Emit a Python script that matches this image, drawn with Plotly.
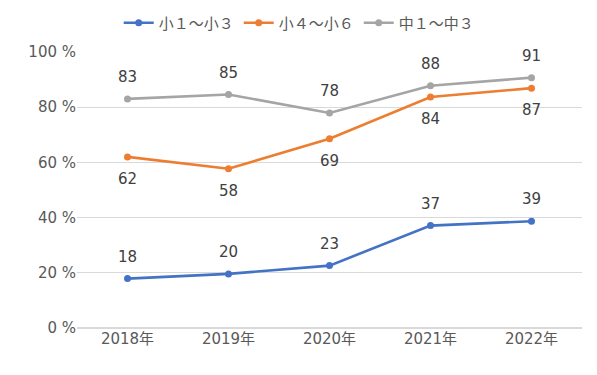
import plotly.graph_objects as go

years = ["2018年", "2019年", "2020年", "2021年", "2022年"]
names = ["小１～小３", "小４～小６", "中１～中３"]
low = [17.9, 19.6, 22.6, 37.1, 38.7]
mid = [62.0, 57.7, 68.6, 83.7, 86.9]
high = [83.0, 84.6, 77.9, 87.8, 90.7]
colors = ["#4472C4", "#ED7D31", "#A5A5A5"]
label_side = [1, -1, 1]  # above / below

series = [low, mid, high]
font = "DejaVu Sans, Noto Sans CJK JP"
fig = go.Figure()
for name, vals, col in zip(names, series, colors):
    fig.add_trace(go.Scatter(
        x=years, y=vals, name=name, mode="lines+markers",
        line=dict(color=col, width=2.6),
        marker=dict(color=col, size=7),
    ))

annotations = []
for vals, side in zip(series, label_side):
    for x, v in zip(years, vals):
        annotations.append(dict(
            x=x, y=v, text=f"{round(v):d}", showarrow=False,
            yshift=22 * side, font=dict(family=font, size=15, color="#404040"),
        ))

fig.update_layout(
    width=589, height=367,
    margin=dict(l=69, r=15, t=44, b=47, autoexpand=False),
    paper_bgcolor="white", plot_bgcolor="white",
    font=dict(family=font, color="#595959", size=15),
    showlegend=True,
    legend=dict(orientation="h", x=0.44, xanchor="center", y=1.105, yanchor="middle",
                font=dict(size=15, color="#595959"), itemwidth=30,
                tracegroupgap=0),
    annotations=annotations,
    xaxis=dict(showgrid=False, showline=False, zeroline=False, ticks="", automargin=False,
               tickfont=dict(size=15, color="#595959"), range=[-0.5, 4.5]),
    yaxis=dict(range=[0, 100], dtick=20, ticksuffix=" %", showgrid=True, automargin=False,
               gridcolor="#D9D9D9", gridwidth=1, zeroline=True, zerolinecolor="#D9D9D9",
               showline=False, ticks="", tickfont=dict(size=15, color="#595959")),
)
fig.write_html("out.html")
